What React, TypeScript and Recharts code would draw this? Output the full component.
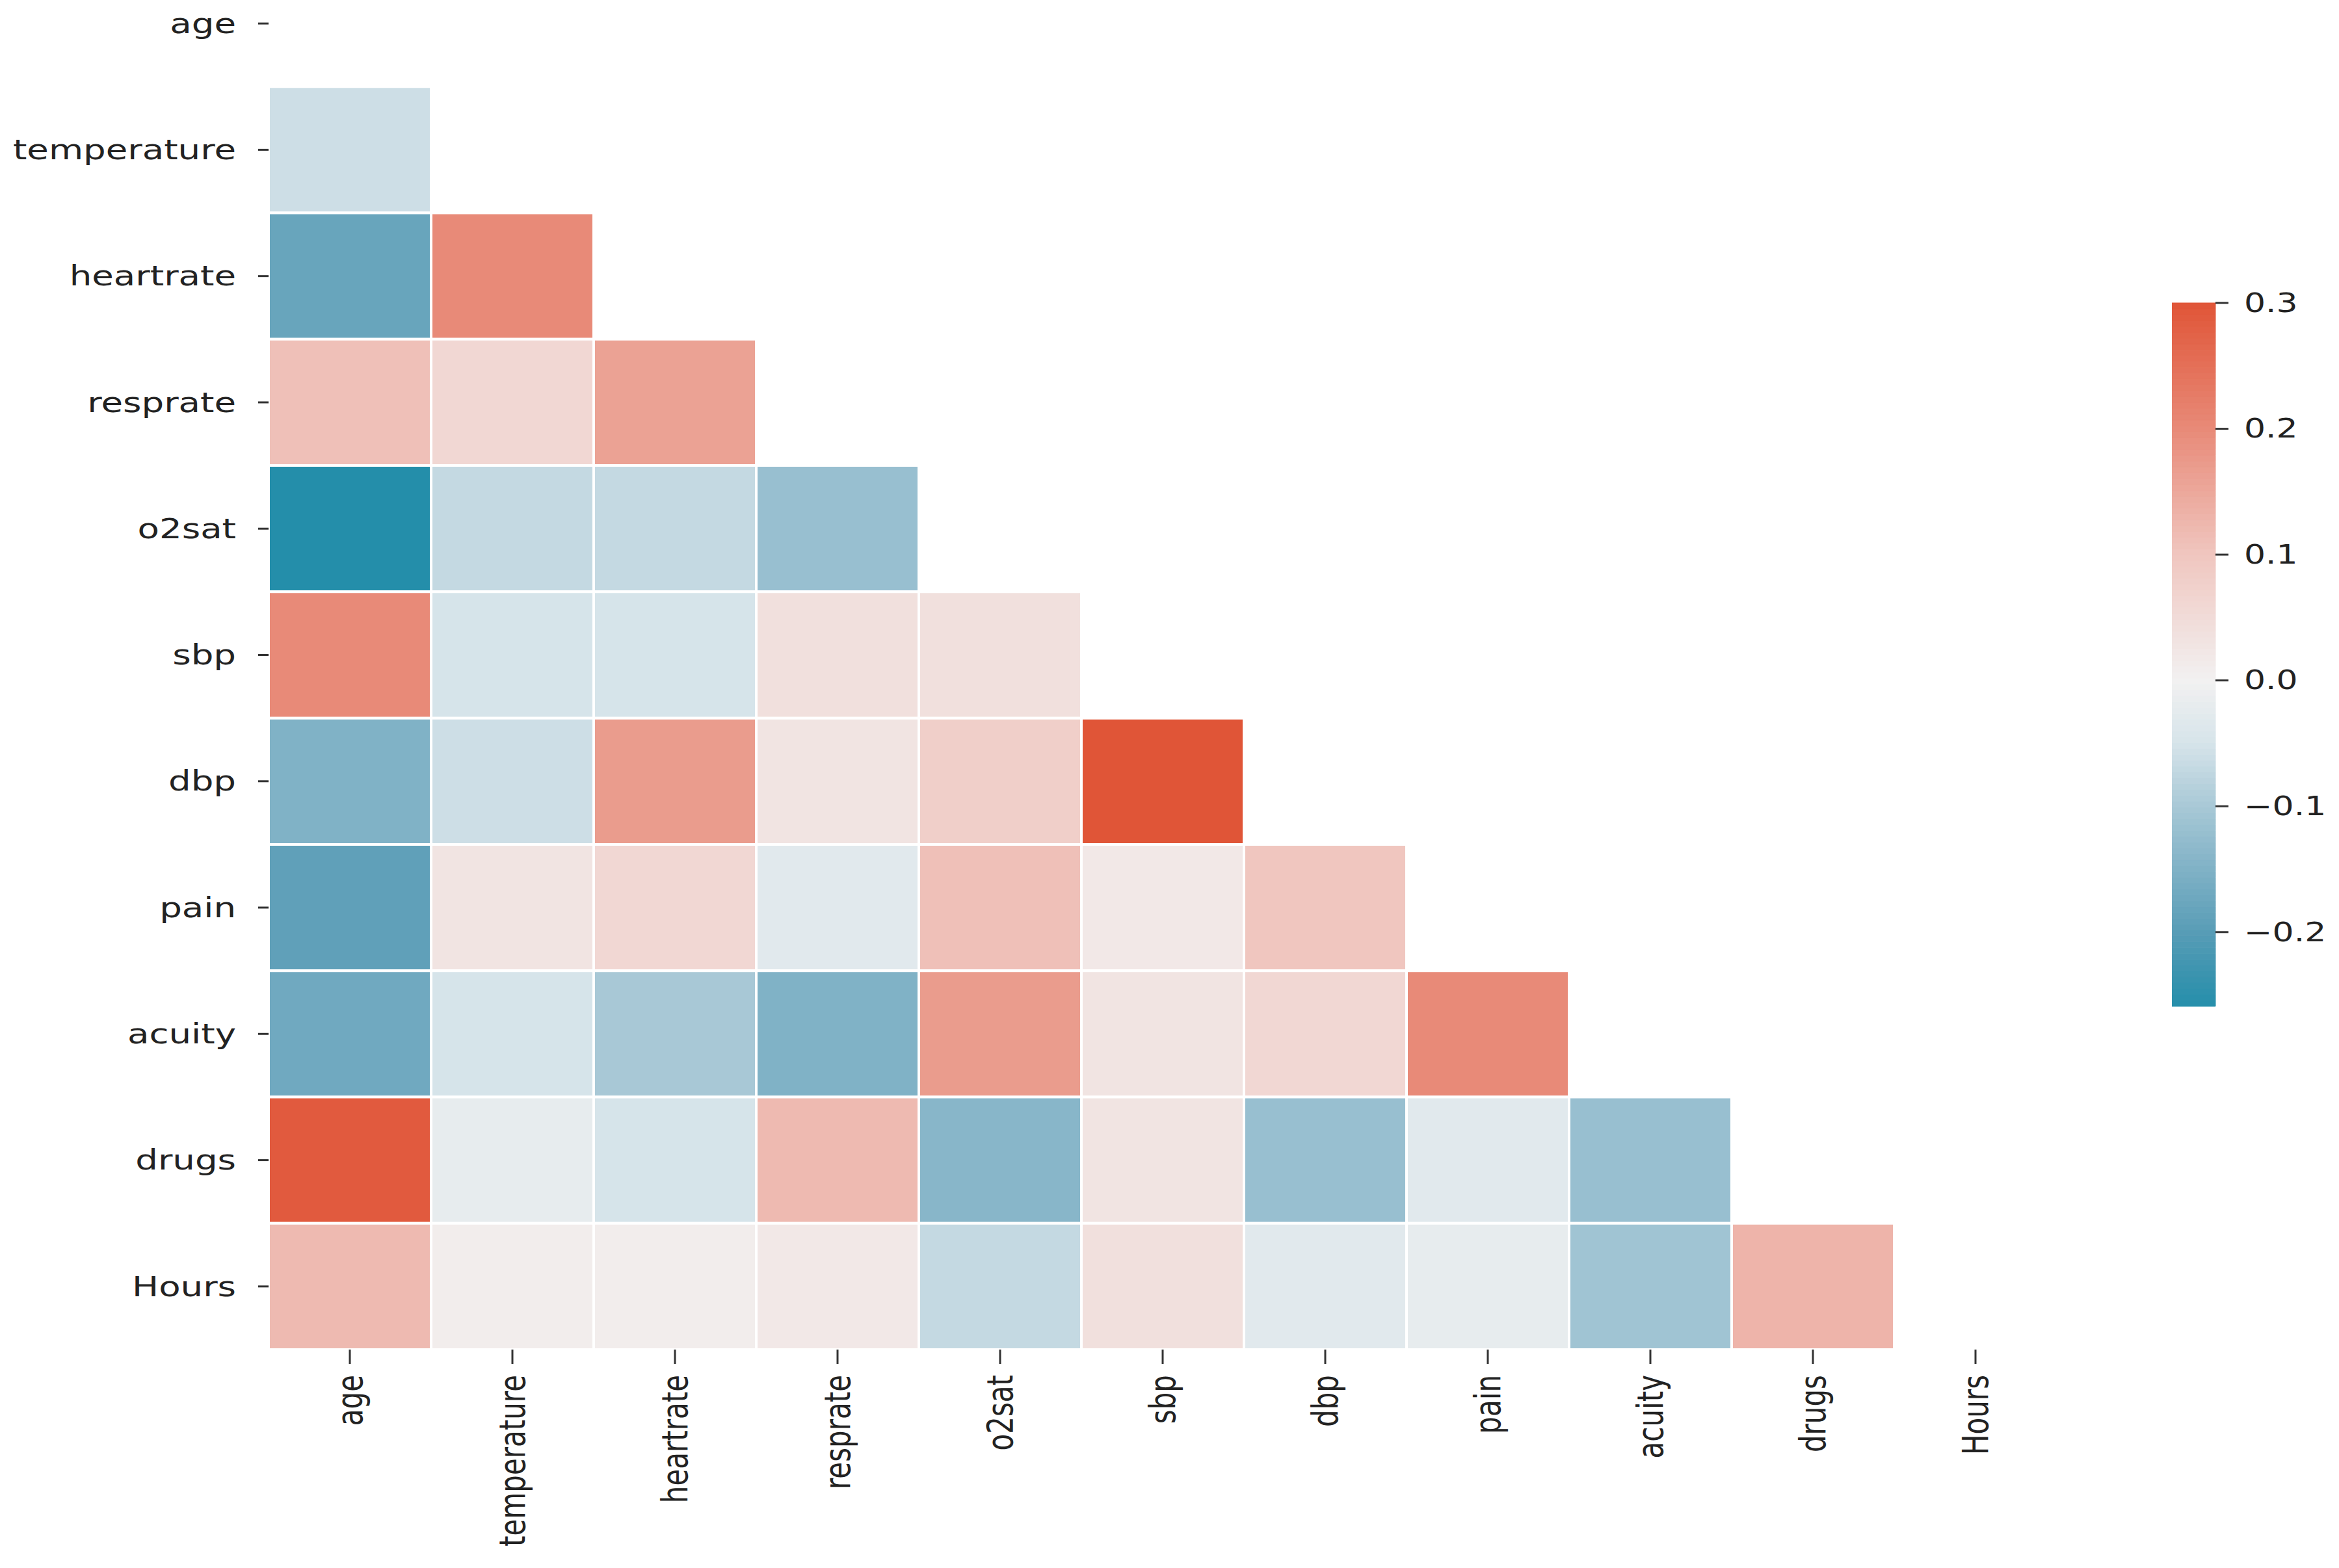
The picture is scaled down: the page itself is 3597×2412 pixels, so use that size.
import React from 'react';
import { ComposedChart, XAxis, YAxis, ReferenceArea } from 'recharts';

// variable names, same order on both axes
const variables = ['age', 'temperature', 'heartrate', 'resprate', 'o2sat', 'sbp', 'dbp', 'pain', 'acuity', 'drugs', 'Hours'];

// lower triangle of the correlation matrix (row i holds columns 0..i-1)
const ageRow: number[] = [];
const temperatureRow = [-0.06];
const heartrateRow = [-0.18, 0.2];
const resprateRow = [0.11, 0.06, 0.16];
const o2satRow = [-0.26, -0.07, -0.07, -0.12];
const sbpRow = [0.2, -0.05, -0.05, 0.04, 0.04];
const dbpRow = [-0.15, -0.06, 0.17, 0.03, 0.08, 0.3];
const painRow = [-0.19, 0.03, 0.06, -0.03, 0.11, 0.02, 0.1];
const acuityRow = [-0.17, -0.05, -0.1, -0.15, 0.17, 0.03, 0.06, 0.2];
const drugsRow = [0.29, -0.02, -0.05, 0.12, -0.14, 0.03, -0.12, -0.03, -0.12];
const hoursRow = [0.12, 0.01, 0.01, 0.02, -0.07, 0.04, -0.03, -0.02, -0.11, 0.13];

const rows = [ageRow, temperatureRow, heartrateRow, resprateRow, o2satRow, sbpRow, dbpRow, painRow, acuityRow, drugsRow, hoursRow];

// colour bar range and ticks
const vmin = -0.259;
const vmax = 0.3;
const colorbarTicks = [-0.2, -0.1, 0, 0.1, 0.2, 0.3];

// diverging palette, sampled from the colour bar
const colorStops: [number, number[]][] = [
  [-0.26, [36, 142, 170]],
  [-0.2, [88, 156, 182]],
  [-0.1, [168, 200, 214]],
  [-0.05, [214, 228, 234]],
  [0, [242, 241, 241]],
  [0.1, [240, 198, 191]],
  [0.2, [232, 138, 120]],
  [0.3, [224, 85, 55]],
];

function colorFor(v: number) {
  if (v <= colorStops[0][0]) return rgb(colorStops[0][1]);
  for (let k = 1; k < colorStops.length; k++) {
    const [v1, c1] = colorStops[k];
    const [v0, c0] = colorStops[k - 1];
    if (v <= v1) {
      const t = (v - v0) / (v1 - v0);
      return rgb(c0.map((c, i) => c + (c1[i] - c) * t));
    }
  }
  return rgb(colorStops[colorStops.length - 1][1]);
}

function rgb(c: number[]) {
  return `rgb(${c.map((x) => Math.round(x)).join(',')})`;
}

const cells = rows.flatMap((row, i) => row.map((value, j) => ({ i, j, value })));

// thin slices that make up the colour bar
const SLICES = 120;
const slices = Array.from({ length: SLICES }, (_, k) => {
  const lo = vmin + ((vmax - vmin) * k) / SLICES;
  const hi = vmin + ((vmax - vmin) * (k + 1)) / SLICES;
  return { lo, hi, color: colorFor((lo + hi) / 2) };
});

const FONT = '"DejaVu Sans", sans-serif';
const TEXT = '#222';
const STRETCH = 1.3;

const YTick = (props: any) => {
  const { x, y, payload } = props;
  return (
    <text
      transform={`translate(${x},${y}) scale(${STRETCH},1)`}
      textAnchor="end"
      dominantBaseline="central"
      fontFamily={FONT}
      fontSize={42}
      fill={TEXT}
    >
      {variables[Math.floor(payload.value)]}
    </text>
  );
};

const XTick = (props: any) => {
  const { x, y, payload } = props;
  return (
    <text
      transform={`translate(${x},${y}) scale(${STRETCH},1) rotate(-90)`}
      textAnchor="end"
      dominantBaseline="central"
      fontFamily={FONT}
      fontSize={42}
      fill={TEXT}
    >
      {variables[Math.floor(payload.value)]}
    </text>
  );
};

const BarTick = (props: any) => {
  const { x, y, payload } = props;
  const v = payload.value as number;
  const label = v < 0 ? '\u2212' + Math.abs(v).toFixed(1) : v.toFixed(1);
  return (
    <text
      transform={`translate(${x},${y}) scale(${STRETCH},1)`}
      textAnchor="start"
      dominantBaseline="central"
      fontFamily={FONT}
      fontSize={40}
      fill={TEXT}
    >
      {label}
    </text>
  );
};

const centers = variables.map((_, i) => i + 0.5);

export default function App() {
  return (
    <div style={{ position: 'absolute', left: 0, top: 0, width: 3597, height: 2412, overflow: 'hidden', background: '#fff' }}>
      <div style={{ position: 'absolute', left: 0, top: -61 }}>
        <ComposedChart width={3597} height={2473} margin={{ top: 0, right: 434, bottom: 0, left: 0 }}>
          <XAxis
            type="number"
            dataKey="x"
            domain={[0, 11]}
            ticks={centers}
            interval={0}
            height={336}
            axisLine={false}
            tickSize={22}
            tickMargin={17}
            tickLine={{ stroke: '#333', strokeWidth: 3 }}
            tick={<XTick />}
            allowDataOverflow
          />
          <YAxis
            type="number"
            dataKey="y"
            domain={[0, 11]}
            reversed
            ticks={centers}
            interval={0}
            width={413}
            axisLine={false}
            tickSize={16}
            tickMargin={34}
            tickLine={{ stroke: '#333', strokeWidth: 3 }}
            tick={<YTick />}
            allowDataOverflow
          />
          {cells.map((c) => (
            <ReferenceArea
              key={`${c.i}-${c.j}`}
              x1={c.j}
              x2={c.j + 1}
              y1={c.i}
              y2={c.i + 1}
              fill={colorFor(c.value)}
              fillOpacity={1}
              stroke="#ffffff"
              strokeWidth={4}
              ifOverflow="visible"
            />
          ))}
        </ComposedChart>
      </div>

      <div style={{ position: 'absolute', left: 3340, top: 426 }}>
        <ComposedChart width={400} height={1162} margin={{ top: 40, right: 0, bottom: 40, left: 0 }}>
          <XAxis type="number" dataKey="x" domain={[0, 1]} hide allowDataOverflow />
          <YAxis
            type="number"
            dataKey="y"
            orientation="right"
            domain={[vmin, vmax]}
            ticks={colorbarTicks}
            interval={0}
            width={333}
            axisLine={false}
            tickSize={20}
            tickMargin={24}
            tickLine={{ stroke: '#333', strokeWidth: 3 }}
            tick={<BarTick />}
            allowDataOverflow
          />
          {slices.map((s, k) => (
            <ReferenceArea
              key={k}
              x1={0}
              x2={1}
              y1={s.lo}
              y2={s.hi}
              fill={s.color}
              fillOpacity={1}
              stroke={s.color}
              strokeWidth={1}
              ifOverflow="visible"
            />
          ))}
        </ComposedChart>
      </div>
    </div>
  );
}
